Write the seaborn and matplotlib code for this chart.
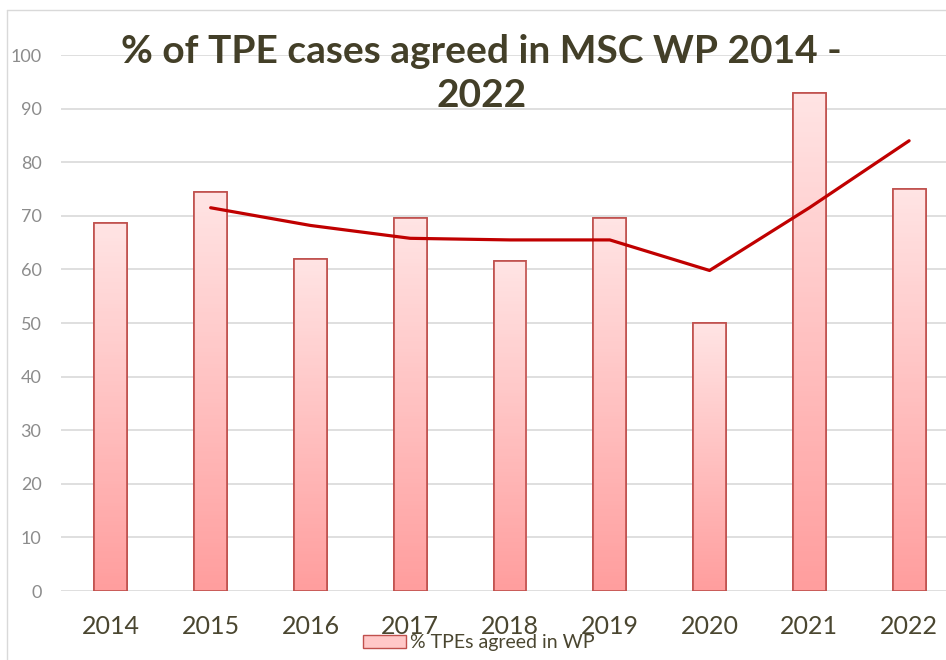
import seaborn as sns
import matplotlib.pyplot as plt
import matplotlib.patches as mpatches
from matplotlib.colors import LinearSegmentedColormap
import numpy as np
import pandas as pd

# values
years = [2014, 2015, 2016, 2017, 2018, 2019, 2020, 2021, 2022]
pct_agreed = [68.6, 74.4, 62.0, 69.5, 61.5, 69.5, 50.0, 93.0, 75.0]
trend_years = [2015, 2016, 2017, 2018, 2019, 2020, 2021, 2022]
trend_vals = [71.5, 68.2, 65.8, 65.5, 65.5, 59.8, 71.5, 84.0]

df = pd.DataFrame({"year": years, "pct": pct_agreed})
trend = pd.DataFrame({"year": trend_years, "val": trend_vals})

sns.set_style("white")
plt.rcParams["font.family"] = ["Lato", "DejaVu Sans"]

fig = plt.figure(figsize=(9.46, 6.6), dpi=100)
ax = fig.add_axes([61 / 946, 69 / 660, 898 / 946, 536 / 660])

sns.barplot(data=df, x="year", y="pct", native_scale=True, width=0.33,
            color="#ffc8c8", edgecolor="#c0504d", linewidth=1.2, ax=ax, zorder=2)

# vertical gradient on each bar, light at top, salmon at bottom
grad = LinearSegmentedColormap.from_list("g", ["#ff9e9e", "#ffe4e4"])
for p in ax.patches:
    x0, y0 = p.get_x(), p.get_y()
    w, h = p.get_width(), p.get_height()
    im = ax.imshow(np.linspace(0, 1, 100).reshape(-1, 1), cmap=grad, origin="lower",
                   extent=[x0, x0 + w, y0, y0 + h], aspect="auto", zorder=2.5)
    im.set_clip_path(p)
    edge = mpatches.Rectangle((x0, y0), w, h, fill=False, edgecolor="#c0504d",
                              linewidth=1.2, zorder=3)
    ax.add_patch(edge)

sns.lineplot(data=trend, x="year", y="val", color="#c00000", linewidth=2.3,
             ax=ax, zorder=4)

ax.set_xlim(2013.5, 2022.5)
ax.set_ylim(0, 100)
ax.set_yticks(range(0, 101, 10))
ax.set_xticks(years)
ax.set_xticklabels([str(y) for y in years])
ax.yaxis.grid(True, color="#d9d9d9", linewidth=1.2, zorder=0)
ax.set_axisbelow(True)
for s in ax.spines.values():
    s.set_visible(False)
ax.tick_params(axis="y", labelsize=13, labelcolor="#8c8c8c", length=0, pad=14)
ax.tick_params(axis="x", labelsize=18, labelcolor="#4a4630", length=0, pad=17)
ax.set_xlabel("")
ax.set_ylabel("")

fig.text(0.509, 0.948, "% of TPE cases agreed in MSC WP 2014 -\n2022", ha="center", va="top",
         fontsize=28, fontweight="bold", color="#433f28", linespacing=1.3)

handle = mpatches.Patch(facecolor="#ffc8c8", edgecolor="#c0504d", label="% TPEs agreed in WP")
fig.legend(handles=[handle], loc="center", bbox_to_anchor=(0.506, 0.026), frameon=False,
           fontsize=14, labelcolor="#4a4630", handlelength=2.2, handleheight=0.65,
           handletextpad=0.2, borderpad=0.1)

# chart border
fig.add_artist(plt.Line2D([7 / 946, 7 / 946], [0, 650 / 660], color="#d9d9d9", lw=1))
fig.add_artist(plt.Line2D([7 / 946, 1], [650 / 660, 650 / 660], color="#d9d9d9", lw=1))

fig.savefig("out.png", dpi=100)
